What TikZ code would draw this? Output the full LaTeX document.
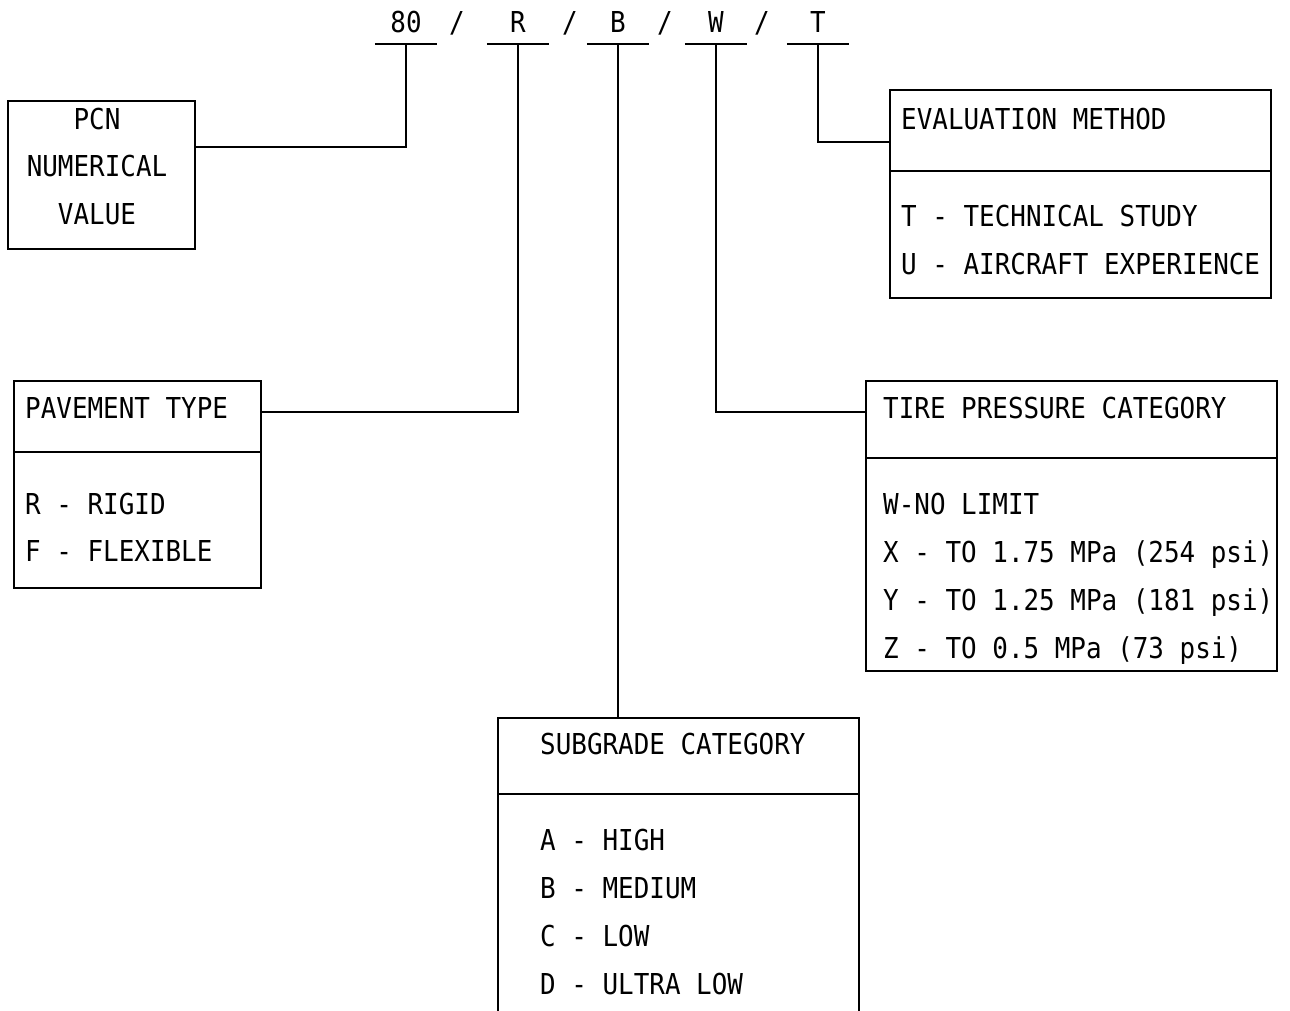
\documentclass[tikz,border=0pt]{standalone}
\usepackage{fontspec}
\setmonofont{DejaVu Sans Mono}[FakeStretch=0.9]
\usetikzlibrary{positioning}

\begin{document}
\begin{tikzpicture}[
    x=1pt, y=-1pt,
    every node/.style={font=\ttfamily\fontsize{28.8}{48}\selectfont},
    box/.style={draw, line width=2pt, anchor=north west, inner sep=0pt},
    txt/.style={anchor=base west, inner sep=0pt},
    ctr/.style={anchor=base, inner sep=0pt},
    code/.style={anchor=base, inner sep=0pt, inner ysep=11pt,
      minimum width=62pt, text height=21pt, text depth=0pt},
    wire/.style={line width=2pt}
  ]
  \useasboundingbox (0,0) rectangle (1290,1011);
  \clip (0,0) rectangle (1290,1011);

  % code line
  \node[code] (c80) at (406,33) {80};
  \node[ctr]  (s1)  at (457,33) {/};
  \node[code] (cR)  at (518,33) {R};
  \node[ctr]  (s2)  at (570,33) {/};
  \node[code] (cB)  at (618,33) {B};
  \node[ctr]  (s3)  at (665,33) {/};
  \node[code] (cW)  at (716,33) {W};
  \node[ctr]  (s4)  at (762,33) {/};
  \node[code] (cT)  at (818,33) {T};
  \foreach \c in {c80,cR,cB,cW,cT}
    \draw[wire] (\c.south west) -- (\c.south east);

  % PCN numerical value
  \node[box, minimum width=187pt, minimum height=148pt] (pcnbox) at (7,100) {};
  \node[ctr] (pcn1) at (97,130) {PCN};
  \node[ctr] (pcn2) at (97,177) {NUMERICAL};
  \node[ctr] (pcn3) at (97,225) {VALUE};

  % evaluation method
  \node[box, minimum width=381pt, minimum height=81pt] (evalhead) at (889,89) {};
  \node[box, minimum width=381pt, minimum height=127pt] (evalbody) at (889,170) {};
  \node[txt] (evalt) at (901,130) {EVALUATION METHOD};
  \node[txt] (evalT) at (901,226) {T - TECHNICAL STUDY};
  \node[txt] (evalU) at (901,274) {U - AIRCRAFT EXPERIENCE};

  % pavement type
  \node[box, minimum width=247pt, minimum height=71pt] (pavehead) at (13,380) {};
  \node[box, minimum width=247pt, minimum height=136pt] (pavebody) at (13,451) {};
  \node[txt] (pavet) at (25,418) {PAVEMENT TYPE};
  \node[txt] (paveR) at (25,514) {R - RIGID};
  \node[txt] (paveF) at (25,561) {F - FLEXIBLE};

  % tire pressure category
  \node[box, minimum width=411pt, minimum height=77pt] (tirehead) at (865,380) {};
  \node[box, minimum width=411pt, minimum height=213pt] (tirebody) at (865,457) {};
  \node[txt] (tiret) at (883,418) {TIRE PRESSURE CATEGORY};
  \node[txt] (tireW) at (883,514) {W-NO LIMIT};
  \node[txt] (tireX) at (883,562) {X - TO 1.75 MPa (254 psi)};
  \node[txt] (tireY) at (883,610) {Y - TO 1.25 MPa (181 psi)};
  \node[txt] (tireZ) at (883,658) {Z - TO 0.5 MPa (73 psi)};

  % subgrade category
  \node[box, minimum width=361pt, minimum height=76pt] (subhead) at (497,717) {};
  \node[box, minimum width=361pt, minimum height=260pt] (subbody) at (497,793) {};
  \node[txt] (subt) at (540,754) {SUBGRADE CATEGORY};
  \node[txt] (subA) at (540,850) {A - HIGH};
  \node[txt] (subB) at (540,898) {B - MEDIUM};
  \node[txt] (subC) at (540,946) {C - LOW};
  \node[txt] (subD) at (540,994) {D - ULTRA LOW};

  % connectors
  \draw[wire] (c80.south) |- (pcnbox.east |- 0,147);
  \draw[wire] (cR.south) |- (pavehead.east |- 0,412);
  \draw[wire] (cB.south) -- (cB.south |- subhead.north);
  \draw[wire] (cW.south) |- (tirehead.west |- 0,412);
  \draw[wire] (cT.south) |- (evalhead.west |- 0,142);
\end{tikzpicture}
\end{document}
